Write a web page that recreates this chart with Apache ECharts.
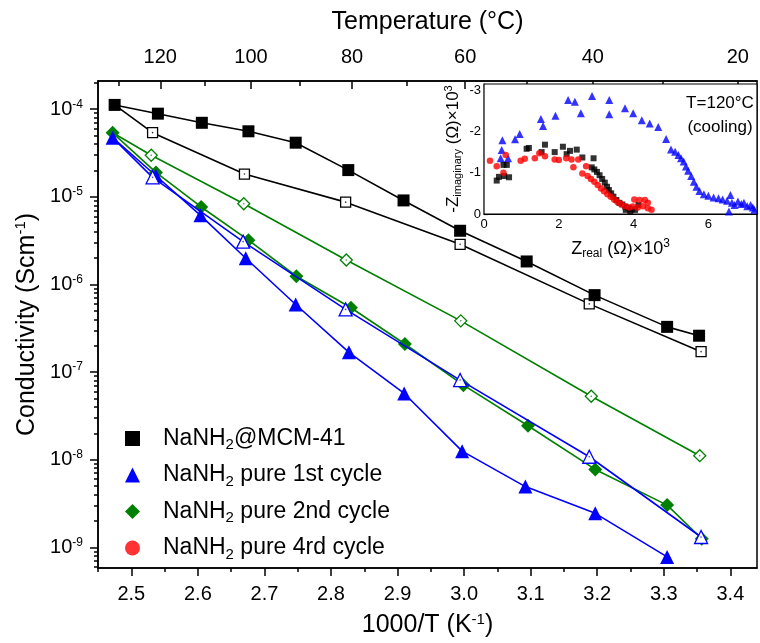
<!DOCTYPE html>
<html>
<head>
<meta charset="utf-8">
<script src="https://cdn.jsdelivr.net/npm/echarts@6/dist/echarts.min.js"></script>
<style>
  html, body { margin: 0; padding: 0; background: #fff; }
  #chart { width: 760px; height: 643px; }
</style>
</head>
<body>
<div id="chart"></div>
<script>
// ---- Arrhenius data: conductivity (S/cm) vs 1000/T (1/K) ----
// NaNH2@MCM-41, heating (filled) and cooling (open)
const mcmHeatX = [2.475, 2.540, 2.606, 2.676, 2.747, 2.826, 2.909, 2.994, 3.094, 3.196, 3.305, 3.353];
const mcmHeatY = [1.12e-4, 8.9e-5, 7.0e-5, 5.6e-5, 4.15e-5, 2.02e-5, 9.1e-6, 4.1e-6, 1.83e-6, 7.55e-7, 3.28e-7, 2.6e-7];
const mcmCoolX = [2.475, 2.532, 2.670, 2.822, 2.994, 3.188, 3.356];
const mcmCoolY = [1.12e-4, 5.4e-5, 1.82e-5, 8.7e-6, 2.87e-6, 6.0e-7, 1.71e-7];

// NaNH2 pure, 1st cycle
const c1HeatX = [2.472, 2.537, 2.604, 2.672, 2.747, 2.827, 2.910, 2.997, 3.092, 3.197, 3.305];
const c1HeatY = [4.73e-5, 1.74e-5, 6.15e-6, 1.99e-6, 5.9e-7, 1.68e-7, 5.7e-8, 1.25e-8, 4.93e-9, 2.44e-9, 7.76e-10];
const c1CoolX = [2.472, 2.532, 2.668, 2.822, 2.994, 3.188, 3.356];
const c1CoolY = [4.73e-5, 1.67e-5, 3.08e-6, 5.19e-7, 8.1e-8, 1.08e-8, 1.31e-9];

// NaNH2 pure, 2nd cycle
const c2HeatX = [2.472, 2.537, 2.605, 2.676, 2.748, 2.830, 2.911, 2.999, 3.096, 3.197, 3.305, 3.357];
const c2HeatY = [5.38e-5, 1.9e-5, 7.66e-6, 3.2e-6, 1.24e-6, 5.42e-7, 2.09e-7, 7.08e-8, 2.44e-8, 7.74e-9, 3.03e-9, 1.25e-9];
const c2CoolX = [2.472, 2.530, 2.669, 2.823, 2.995, 3.191, 3.354];
const c2CoolY = [5.38e-5, 2.98e-5, 8.34e-6, 1.9e-6, 3.84e-7, 5.3e-8, 1.11e-8];

// ---- Nyquist inset at 120 °C (cooling), both in kOhm ----
const nyqC1Re = [0.446, 0.643, 0.473, 0.491, 0.830, 0.955, 1.52, 1.58, 1.91, 2.25, 2.43, 2.59, 2.89, 3.35, 3.35, 3.77, 3.99, 4.22, 4.43, 4.66, 4.87, 5.00, 5.11, 5.20, 5.27, 5.34, 5.40, 5.46, 5.54, 5.61, 5.68, 5.76, 5.88, 6.00, 6.14, 6.27, 6.38, 6.50, 6.59, 6.63, 6.70, 6.55, 6.79, 6.88, 6.95, 7.04, 7.13, 7.19, 7.23];
const nyqC1Im = [1.35, 1.35, 1.55, 1.79, 1.81, 1.94, 2.30, 2.13, 2.38, 2.76, 2.72, 2.44, 2.86, 2.76, 2.42, 2.56, 2.44, 2.27, 2.19, 2.11, 1.82, 1.56, 1.51, 1.43, 1.35, 1.27, 1.15, 1.05, 0.92, 0.78, 0.66, 0.56, 0.48, 0.44, 0.40, 0.38, 0.35, 0.32, 0.46, 0.27, 0.22, 0.06, 0.30, 0.24, 0.27, 0.19, 0.22, 0.16, 0.10];

const nyqMcmRe = [0.34, 0.40, 0.54, 0.61, 0.52, 0.67, 1.14, 1.20, 1.54, 1.63, 1.89, 2.11, 2.21, 2.30, 2.48, 2.63, 2.93, 2.88, 2.95, 3.02, 3.09, 3.16, 3.23, 3.29, 3.34, 3.40, 3.46, 3.54, 3.62, 3.70, 3.78, 3.86, 3.95, 4.04, 4.13, 3.79, 3.91];
const nyqMcmIm = [0.81, 0.90, 0.92, 1.19, 1.19, 0.89, 1.58, 1.60, 1.50, 1.68, 1.50, 1.63, 1.45, 1.53, 1.56, 1.37, 1.35, 1.13, 1.08, 1.02, 0.94, 0.85, 0.76, 0.66, 0.58, 0.50, 0.42, 0.34, 0.27, 0.23, 0.18, 0.15, 0.11, 0.10, 0.22, 0.10, 0.05];

const nyqC4Re = [0.16, 0.34, 0.52, 0.58, 0.98, 1.09, 1.36, 1.48, 1.63, 1.89, 2.00, 2.20, 2.34, 2.39, 2.52, 2.73, 2.63, 2.77, 2.86, 2.95, 3.04, 3.13, 3.21, 3.30, 3.39, 3.48, 3.57, 3.66, 3.77, 3.88, 4.02, 4.16, 4.30, 4.38, 4.25, 4.38, 4.48, 4.11, 3.98];
const nyqC4Im = [1.29, 1.16, 1.00, 1.43, 1.29, 1.34, 1.35, 1.47, 1.40, 1.32, 1.31, 1.35, 1.32, 1.13, 1.32, 1.16, 0.98, 0.92, 0.85, 0.78, 0.70, 0.62, 0.55, 0.48, 0.42, 0.35, 0.29, 0.24, 0.19, 0.16, 0.35, 0.34, 0.34, 0.27, 0.19, 0.14, 0.10, 0.16, 0.18];

// ---- Axis ticks ----
const xTicks = [2.5, 2.6, 2.7, 2.8, 2.9, 3.0, 3.1, 3.2, 3.3, 3.4];
const xMinorTicks = [2.45, 2.55, 2.65, 2.75, 2.85, 2.95, 3.05, 3.15, 3.25, 3.35];
const tempTicks = [120, 100, 80, 60, 40, 20];        // °C
const tempMinorTicks = [130, 110, 90, 70, 50, 30];  // °C
const yDecades = [1e-9, 1e-8, 1e-7, 1e-6, 1e-5, 1e-4];
const insetXTicks = [0, 2, 4, 6];

const X_MIN = 2.45, X_MAX = 3.44;
const Y_MIN = 5.8e-10, Y_MAX = 2.1e-4;

const FONT = '"Liberation Sans", Arial, Helvetica, sans-serif';
const BLACK = '#000000', BLUE = '#0000ff', GREEN = '#008000', RED = '#ff0000';

const zip = (xs, ys) => xs.map((x, i) => [x, ys[i]]);
// cooling runs start from the first heating point, which already carries a marker
const coolData = (xs, ys) => zip(xs, ys).map((p, i) => i === 0 ? { value: p, symbol: 'none' } : p);
const invT = t => 1000 / (t + 273.15);

const yMinorTicks = [];
[1e-10, 1e-9, 1e-8, 1e-7, 1e-6, 1e-5, 1e-4].forEach(d => {
  for (let k = 2; k <= 9; k++) {
    const v = d * k;
    if (v > Y_MIN && v < Y_MAX) yMinorTicks.push(v);
  }
});

const supStyle = (size, lift) => ({ fontSize: size, fontFamily: FONT, color: BLACK, verticalAlign: 'top', padding: [0, 0, lift, 0] });
const subStyle = (size, drop) => ({ fontSize: size, fontFamily: FONT, color: BLACK, verticalAlign: 'bottom', padding: [drop, 0, 0, 0] });

const tickLine = { color: BLACK, width: 1.5 };

function lineSeries(name, xs, ys, color, symbol, size, open, z) {
  return {
    name: name,
    type: 'line',
    xAxisIndex: 0, yAxisIndex: 0,
    data: open ? coolData(xs, ys) : zip(xs, ys),
    symbol: symbol,
    symbolSize: size,
    showAllSymbol: true,
    lineStyle: { color: color, width: 1.6 },
    itemStyle: open
      ? { color: '#ffffff', borderColor: color, borderWidth: 1.3 }
      : { color: color, borderColor: color, borderWidth: 0 },
    emphasis: { disabled: true },
    z: z
  };
}

function centreDots(xs, ys, color) {
  return {
    type: 'scatter',
    xAxisIndex: 0, yAxisIndex: 0,
    data: zip(xs, ys).slice(1),
    symbol: 'circle',
    symbolSize: 1.6,
    itemStyle: { color: color },
    silent: true,
    z: 5
  };
}

function nyquist(name, re, im, color, symbol, size) {
  return {
    name: name,
    type: 'scatter',
    xAxisIndex: 4, yAxisIndex: 2,
    data: zip(re, im),
    symbol: symbol,
    symbolSize: size,
    itemStyle: { color: color },
    emphasis: { disabled: true },
    z: 6
  };
}

const legendNames = ['NaNH2@MCM-41', 'NaNH2 pure 1st cycle', 'NaNH2 pure 2nd cycle', 'NaNH2 pure 4rd cycle'];

const chart = echarts.init(document.getElementById('chart'), null, { renderer: 'canvas' });

chart.setOption({
  animation: false,
  backgroundColor: '#ffffff',
  textStyle: { fontFamily: FONT, color: BLACK },
  grid: [
    { left: 98, top: 81, width: 659, height: 492, show: true, borderColor: BLACK, borderWidth: 1.5, backgroundColor: 'transparent', containLabel: false },
    { left: 484, top: 84, width: 273, height: 130, show: true, borderColor: BLACK, borderWidth: 1.2, backgroundColor: '#ffffff', containLabel: false, z: 3 }
  ],
  xAxis: [
    { // 0: 1000/T, major ticks and labels
      gridIndex: 0, type: 'value', position: 'bottom', min: X_MIN, max: X_MAX,
      axisLine: { show: true, onZero: false, lineStyle: tickLine },
      axisTick: { show: true, customValues: xTicks, length: 8, lineStyle: tickLine },
      axisLabel: { customValues: xTicks, formatter: v => v.toFixed(1), fontSize: 20, color: BLACK, margin: 16, fontFamily: FONT },
      splitLine: { show: false },
      name: '1000/T (K{sup|-1})', nameLocation: 'middle', nameGap: 44,
      nameTextStyle: { fontSize: 25, color: BLACK, fontFamily: FONT, rich: { sup: supStyle(15, 12) } }
    },
    { // 1: 1000/T, minor ticks
      gridIndex: 0, type: 'value', position: 'bottom', min: X_MIN, max: X_MAX,
      axisLine: { show: false, onZero: false },
      axisTick: { show: true, customValues: xMinorTicks, length: 4, lineStyle: tickLine },
      axisLabel: { show: false },
      splitLine: { show: false }
    },
    { // 2: temperature scale on top, major ticks and labels
      gridIndex: 0, type: 'value', position: 'top', min: X_MIN, max: X_MAX,
      axisLine: { show: true, onZero: false, lineStyle: tickLine },
      axisTick: { show: true, inside: true, customValues: tempTicks.map(invT), length: 8, lineStyle: tickLine },
      axisLabel: { customValues: tempTicks.map(invT), formatter: v => String(Math.round(1000 / v - 273.15)), fontSize: 20, color: BLACK, margin: 14, fontFamily: FONT },
      splitLine: { show: false },
      name: 'Temperature (°C)', nameLocation: 'middle', nameGap: 46,
      nameTextStyle: { fontSize: 25, color: BLACK, fontFamily: FONT }
    },
    { // 3: temperature scale, minor ticks
      gridIndex: 0, type: 'value', position: 'top', min: X_MIN, max: X_MAX,
      axisLine: { show: false, onZero: false },
      axisTick: { show: true, inside: true, customValues: tempMinorTicks.map(invT), length: 5, lineStyle: tickLine },
      axisLabel: { show: false },
      splitLine: { show: false }
    },
    { // 4: inset Z real
      gridIndex: 1, type: 'value', position: 'bottom', min: 0, max: 7.3,
      axisLine: { show: true, onZero: false, lineStyle: { color: BLACK, width: 1.2 } },
      axisTick: { show: true, inside: true, customValues: insetXTicks, length: 4, lineStyle: { color: BLACK, width: 1.2 } },
      axisLabel: { customValues: insetXTicks, fontSize: 13, color: BLACK, margin: 4, fontFamily: FONT },
      splitLine: { show: false },
      name: 'Z{sub|real} (Ω)×10{sup|3}', nameLocation: 'middle', nameGap: 24,
      nameTextStyle: { fontSize: 18, color: BLACK, fontFamily: FONT, rich: { sub: subStyle(12, 10), sup: supStyle(12, 8) } }
    },
    { // 5: inset top edge ticks
      gridIndex: 1, type: 'value', position: 'top', min: 0, max: 7.3,
      axisLine: { show: false, onZero: false },
      axisTick: { show: true, inside: true, customValues: insetXTicks, length: 5, lineStyle: { color: BLACK, width: 1.2 } },
      axisLabel: { show: false },
      splitLine: { show: false }
    }
  ],
  yAxis: [
    { // 0: conductivity, decades
      gridIndex: 0, type: 'log', logBase: 10, position: 'left', min: Y_MIN, max: Y_MAX,
      axisLine: { show: true, onZero: false, lineStyle: tickLine },
      axisTick: { show: true, customValues: yDecades, length: 8, lineStyle: tickLine },
      axisLabel: {
        customValues: yDecades,
        formatter: v => '10{sup|' + Math.round(Math.log10(v)) + '}',
        fontSize: 20, color: BLACK, margin: 15, fontFamily: FONT,
        rich: { sup: supStyle(12, 10) }
      },
      splitLine: { show: false },
      name: 'Conductivity (Scm{sup|-1})', nameLocation: 'middle', nameGap: 47,
      nameTextStyle: { fontSize: 25, color: BLACK, fontFamily: FONT, rich: { sup: supStyle(15, 12) } }
    },
    { // 1: conductivity, minor ticks
      gridIndex: 0, type: 'log', logBase: 10, position: 'left', min: Y_MIN, max: Y_MAX,
      axisLine: { show: false, onZero: false },
      axisTick: { show: true, customValues: yMinorTicks, length: 4, lineStyle: tickLine },
      axisLabel: { show: false },
      splitLine: { show: false }
    },
    { // 2: inset -Z imaginary
      gridIndex: 1, type: 'value', position: 'left', min: 0, max: 3.15, interval: 1,
      axisLine: { show: true, onZero: false, lineStyle: { color: BLACK, width: 1.2 } },
      axisTick: { show: true, inside: true, length: 4, lineStyle: { color: BLACK, width: 1.2 } },
      axisLabel: { formatter: v => v === 0 ? '0' : '-' + v, fontSize: 13, color: BLACK, margin: 3, fontFamily: FONT, showMaxLabel: false },
      splitLine: { show: false },
      name: '-Z{sub|imaginary} (Ω)×10{sup|3}', nameLocation: 'middle', nameGap: 21,
      nameTextStyle: { fontSize: 17, color: BLACK, fontFamily: FONT, rich: { sub: subStyle(11, 9), sup: supStyle(11, 8) } }
    }
  ],
  legend: {
    orient: 'vertical',
    left: 120, top: 422,
    itemWidth: 15, itemHeight: 15, itemGap: 11,
    selectedMode: false,
    data: [
      { name: legendNames[0], icon: 'rect' },
      { name: legendNames[1], icon: 'triangle' },
      { name: legendNames[2], icon: 'diamond' },
      { name: legendNames[3], icon: 'circle' }
    ],
    formatter: name => '{sp|}' + name.replace('NaNH2', 'NaNH{sub|2}'),
    textStyle: {
      fontSize: 23, color: BLACK, fontFamily: FONT,
      rich: { sp: { width: 18 }, sub: subStyle(15, 13) }
    }
  },
  graphic: [
    { type: 'text', x: 720, y: 103, z: 10, style: { text: 'T=120°C', fill: BLACK, font: '17px ' + FONT, align: 'center', verticalAlign: 'middle' } },
    { type: 'text', x: 720, y: 127, z: 10, style: { text: '(cooling)', fill: BLACK, font: '17px ' + FONT, align: 'center', verticalAlign: 'middle' } }
  ],
  series: [
    lineSeries('NaNH2@MCM-41 cooling', mcmCoolX, mcmCoolY, BLACK, 'rect', 10, true, 2),
    centreDots(mcmCoolX, mcmCoolY, BLACK),
    lineSeries(legendNames[0], mcmHeatX, mcmHeatY, BLACK, 'rect', 12, false, 3),
    lineSeries('NaNH2 pure 2nd cycle cooling', c2CoolX, c2CoolY, GREEN, 'diamond', 12, true, 2),
    centreDots(c2CoolX, c2CoolY, GREEN),
    lineSeries(legendNames[2], c2HeatX, c2HeatY, GREEN, 'diamond', 14, false, 3),
    lineSeries(legendNames[1], c1HeatX, c1HeatY, BLUE, 'triangle', 14, false, 3),
    lineSeries('NaNH2 pure 1st cycle cooling', c1CoolX, c1CoolY, BLUE, 'triangle', 13, true, 4),
    centreDots(c1CoolX, c1CoolY, BLUE),
    nyquist(legendNames[1], nyqC1Re, nyqC1Im, BLUE, 'triangle', 8),
    nyquist(legendNames[0], nyqMcmRe, nyqMcmIm, BLACK, 'rect', 6),
    nyquist(legendNames[3], nyqC4Re, nyqC4Im, RED, 'circle', 6.5)
  ]
});
</script>
</body>
</html>
